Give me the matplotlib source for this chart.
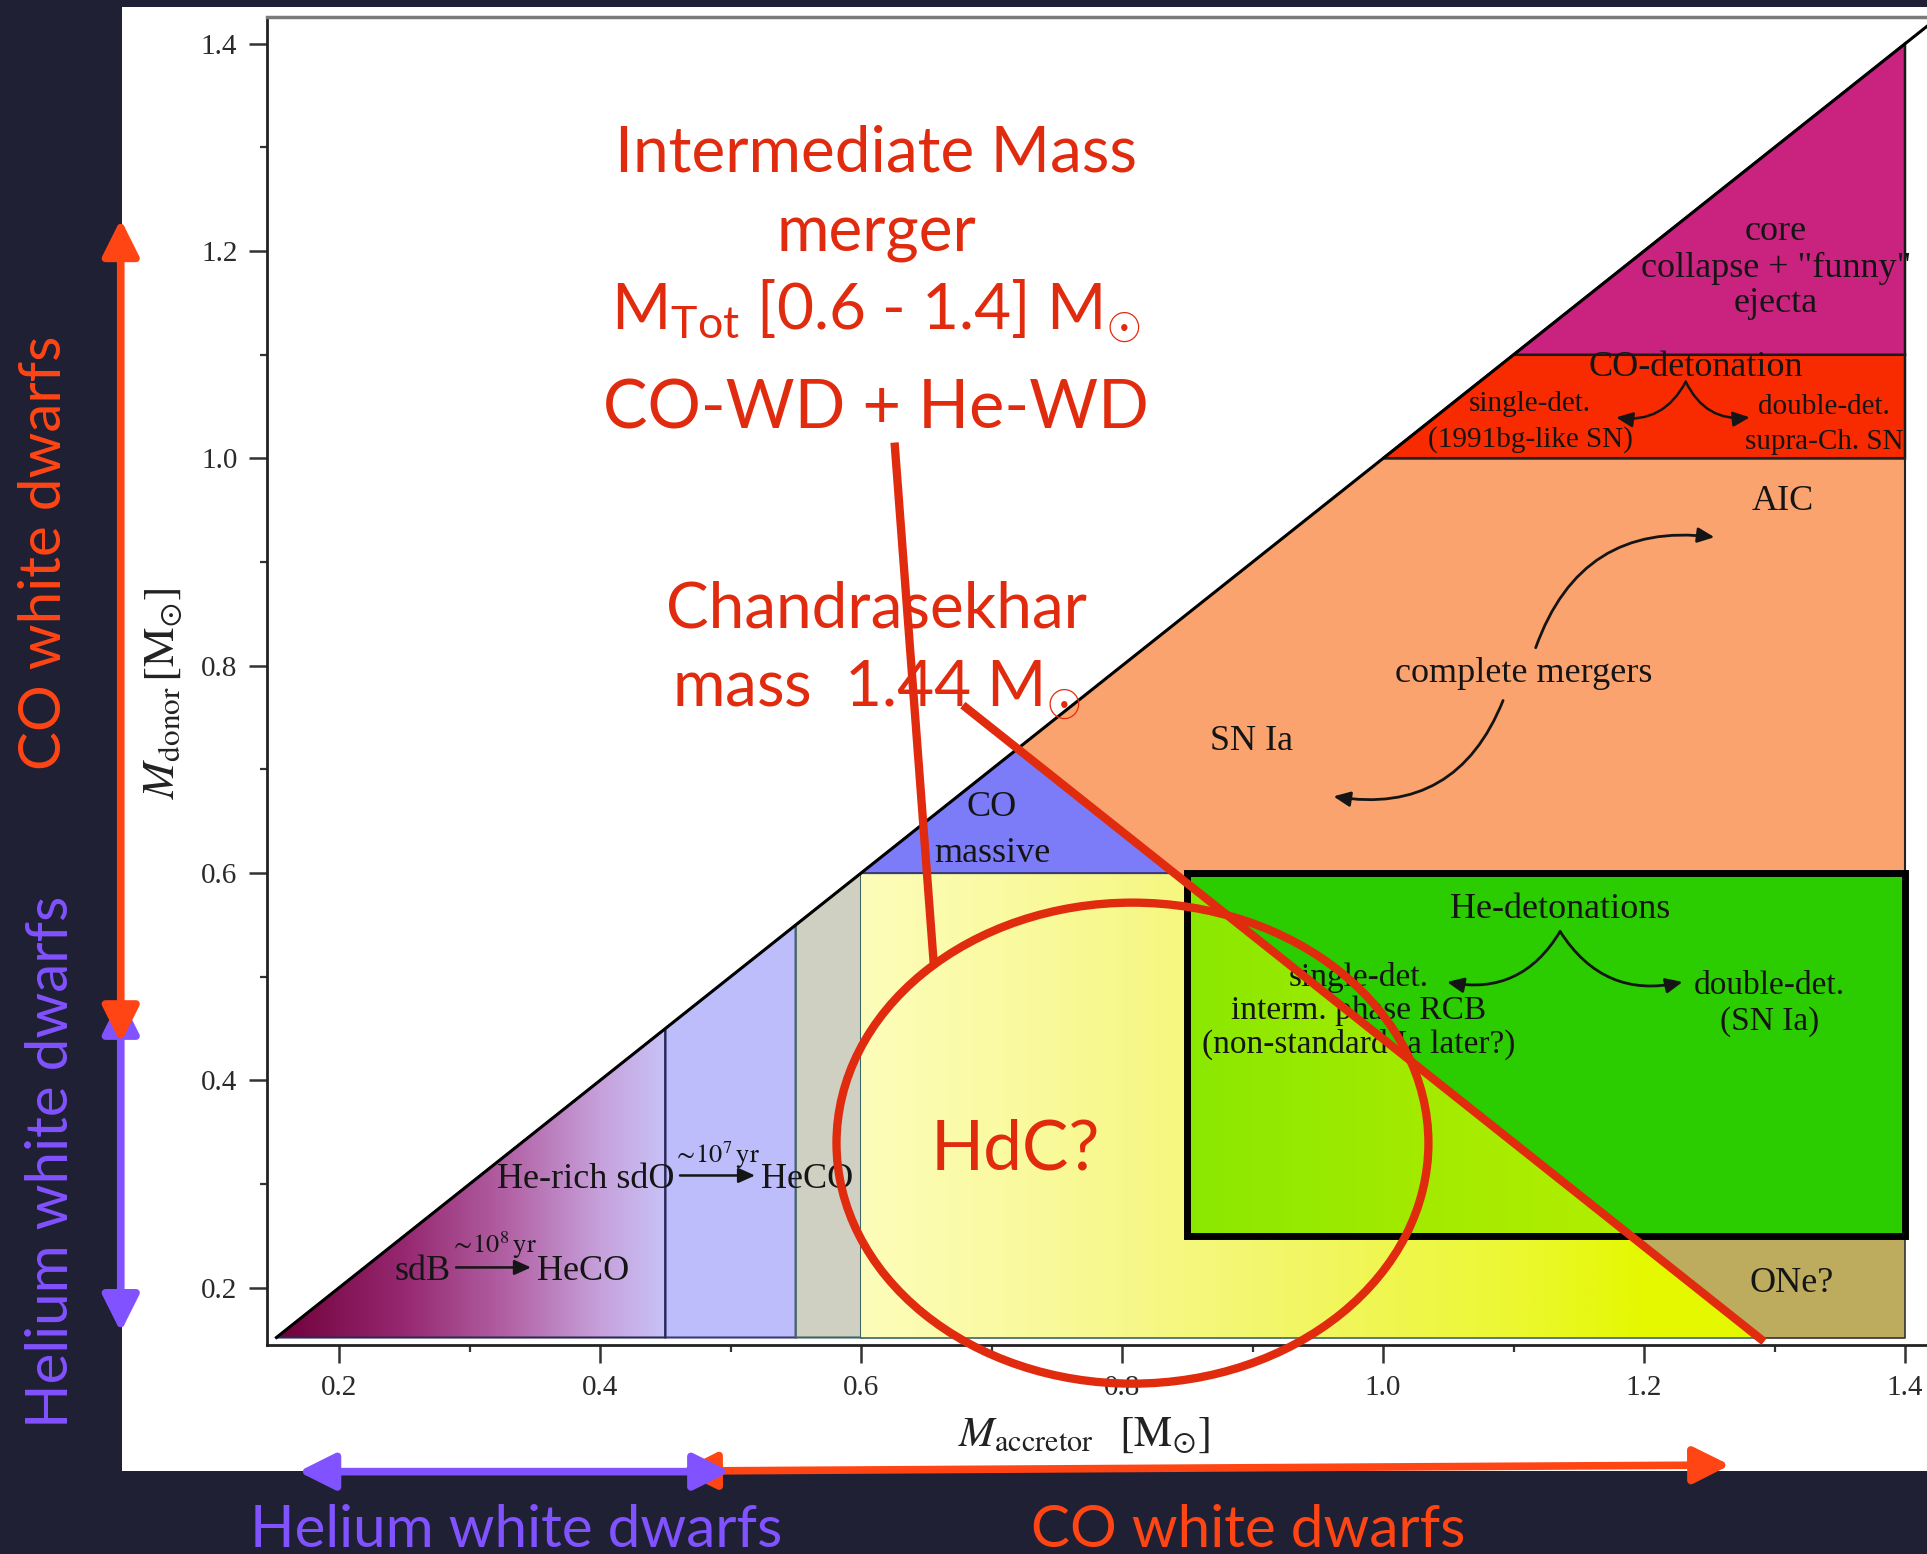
import numpy as np
import matplotlib
matplotlib.use("Agg")
import matplotlib.pyplot as plt
from matplotlib.patches import Polygon, Rectangle, Ellipse, FancyArrowPatch
from matplotlib.ticker import MultipleLocator, FormatStrFormatter

plt.rcParams['mathtext.rm'] = 'Lato'
plt.rcParams['mathtext.it'] = 'Lato:italic'
plt.rcParams['mathtext.bf'] = 'Lato:bold'

# ---------------- masses (solar units) ----------------
m_floor = 0.152                          # lower donor-mass edge of the shaded map
m_max = 1.40                             # upper accretor / donor mass of the map
he_bands = [0.152, 0.45, 0.55, 0.60]     # accretor edges: sdB, He-rich sdO, hybrid strip
donor_levels = [0.60, 1.00, 1.10]        # complete mergers / CO detonation / core collapse
he_det_acc = [0.85, 1.40]                # He-detonation box, accretor range
he_det_don = [0.25, 0.60]                # He-detonation box, donor range
one_don = [0.152, 0.25]                  # ONe box, donor range

m_chandra = 1.44                         # Chandrasekhar mass: total-mass boundary
chandra_acc = [0.678, 1.292]             # accretor span of the M_acc + M_don = M_Ch guide

hdc_center = [0.808, 0.3395]             # HdC candidate zone (accretor, donor)
hdc_size = [0.4536, 0.464]

he_wd_acc = [0.1688, 0.4996]             # He WD accretor range (bottom bracket)
co_wd_acc = [0.4613, 1.2659]             # CO WD accretor range
he_wd_don = [0.1574, 0.4805]             # He WD donor range (left bracket)
co_wd_don = [0.436, 1.2307]              # CO WD donor range

x_ticks = [0.2, 0.4, 0.6, 0.8, 1.0, 1.2, 1.4]
y_ticks = [0.2, 0.4, 0.6, 0.8, 1.0, 1.2, 1.4]

# ---------------- colours ----------------
BG = '#1f2033'
RED = '#e12b0e'
CO_COL = '#ff4514'
HE_COL = '#8152ff'
INK = '#151515'
SERIF = 'Liberation Serif'
SANS = ['Lato', 'DejaVu Sans']

fig = plt.figure(figsize=(19.27, 15.54), dpi=100, facecolor=BG)
fig.patches.append(Rectangle((0.0633, 0.0531), 0.95, 0.9424, transform=fig.transFigure,
                             facecolor='white', edgecolor='none', zorder=-5))
ax = fig.add_axes([0.13830, 0.13424, 0.87737, 0.85514])
ax.set_zorder(1)
ax.set_facecolor('white')


def tot_line_acc(m_don, total=m_chandra):
    """Accretor mass on the line M_acc + M_don = total."""
    return total - m_don


def shade(verts, stops, z):
    poly = Polygon(verts, closed=True, facecolor='none', edgecolor='none', zorder=z)
    ax.add_patch(poly)
    xs = np.array([v[0] for v in verts])
    ys = np.array([v[1] for v in verts])
    xg = np.linspace(xs.min(), xs.max(), 600)
    pos = [s[0] for s in stops]
    cols = np.array([s[1] for s in stops], dtype=float) / 255.0
    rgb = np.stack([np.interp(xg, pos, cols[:, k]) for k in range(3)], axis=-1)
    img = np.repeat(rgb[None, :, :], 2, axis=0)
    im = ax.imshow(img, extent=[xs.min(), xs.max(), ys.min(), ys.max()], aspect='auto',
                   interpolation='bilinear', origin='lower', zorder=z)
    im.set_clip_path(poly)


def flat(verts, color, z, ec='none', lw=0.0):
    ax.add_patch(Polygon(verts, closed=True, facecolor=color, edgecolor=ec, lw=lw, zorder=z))


def outline(verts, ec, lw, z):
    ax.add_patch(Polygon(verts, closed=True, facecolor='none', edgecolor=ec, lw=lw, zorder=z))


b0, b1, b2, b3 = he_bands
d_cm, d_co, d_cc = donor_levels
apex = m_chandra / 2.0                   # where the total-mass line meets the diagonal

# He WD + He WD: sdB band (gradient triangle)
tri = [(b0, b0), (b1, b1), (b1, m_floor)]
shade(tri, [(b0, (112, 0, 58)), (0.25, (150, 40, 112)), (0.33, (178, 98, 165)),
            (0.40, (198, 160, 218)), (b1, (200, 194, 247))], 1)
outline(tri, '#2a2a55', 1.5, 1.6)
# He-rich sdO band
band = [(b1, m_floor), (b1, b1), (b2, b2), (b2, m_floor)]
flat(band, '#bdbdfb', 1, '#3a3a78', 1.5)
# hybrid strip
strip = [(b2, m_floor), (b2, b2), (b3, b3), (b3, m_floor)]
flat(strip, '#cfd0c2', 1, '#3f6464', 1.5)

# yellow CO + He region below the total-mass boundary
e_top = tot_line_acc(d_cm)
e_bot = tot_line_acc(m_floor)
yel = [(b3, m_floor), (b3, d_cm), (e_top, d_cm), (e_bot, m_floor)]
shade(yel, [(0.60, (253, 253, 187)), (0.80, (247, 248, 140)), (0.95, (241, 246, 96)),
            (1.10, (236, 248, 50)), (1.20, (228, 248, 0)), (e_bot, (228, 248, 0))], 1)

# complete mergers (orange)
ora = [(apex, apex), (d_co, d_co), (m_max, d_co), (m_max, m_floor), (e_bot, m_floor)]
flat(ora, '#fba36e', 1)
ax.plot([d_co, m_max, m_max], [d_co, d_co, d_cm], color='#222222', lw=1.5, zorder=1.6)
# CO detonation
cod = [(d_co, d_co), (d_cc, d_cc), (m_max, d_cc), (m_max, d_co)]
flat(cod, '#f72a00', 1.2, '#1a1a1a', 1.8)
# core collapse
ccx = [(d_cc, d_cc), (m_max, m_max), (m_max, d_cc)]
flat(ccx, '#c9227f', 1.2, '#1a1a1a', 1.8)
# massive CO triangle
com = [(b3, d_cm), (apex, apex), (e_top, d_cm)]
flat(com, '#7c7cf8', 1.3, '#3a3a78', 1.5)

# He-detonation box: split by the total-mass boundary
ax0, ax1 = he_det_acc
dy0, dy1 = he_det_don
flat([(ax0, dy0), (ax0, dy1), (ax1, dy1), (ax1, dy0)], '#2bcc00', 1.4)
lower = [(ax0, dy0), (ax0, tot_line_acc(ax0)), (tot_line_acc(dy0), dy0)]
shade(lower, [(ax0, (138, 232, 0)), (1.0, (160, 234, 0)), (tot_line_acc(dy0), (178, 238, 0))], 1.5)
ax.add_patch(Rectangle((ax0, dy0), ax1 - ax0, dy1 - dy0, facecolor='none', edgecolor='black',
                       lw=5, zorder=3))

# ONe box
one = [(tot_line_acc(one_don[1]), one_don[1]), (m_max, one_don[1]), (m_max, one_don[0]),
       (tot_line_acc(one_don[0]), one_don[0])]
flat(one, '#bdab5e', 1.4)
ax.plot([tot_line_acc(one_don[1]), m_max, m_max, tot_line_acc(one_don[0])],
        [one_don[1], one_don[1], one_don[0], one_don[0]], color='#333333', lw=1.2, zorder=1.6)
ax.plot([b3, e_bot], [m_floor, m_floor], color='#3f6464', lw=1.2, zorder=1.6)

# equal-mass diagonal
ax.plot([m_floor, 1.45], [m_floor, 1.45], color='black', lw=2.2, zorder=3)

# ---------------- axes styling ----------------
ax.set_xlim(0.1444, 1.44)
ax.set_ylim(0.1444, 1.4263)
ax.set_xticks(x_ticks)
ax.set_yticks(y_ticks)
ax.xaxis.set_minor_locator(MultipleLocator(0.1))
ax.yaxis.set_minor_locator(MultipleLocator(0.1))
ax.xaxis.set_major_formatter(FormatStrFormatter('%.1f'))
ax.yaxis.set_major_formatter(FormatStrFormatter('%.1f'))
ax.tick_params(which='major', direction='out', length=13, width=1.8, color='#333333',
               labelsize=21, labelcolor='#2a2a2a', pad=8)
ax.tick_params(which='minor', direction='out', length=5, width=1.6, color='#333333')
for lab in ax.get_xticklabels() + ax.get_yticklabels():
    lab.set_family(SERIF)
for side in ('left', 'bottom'):
    ax.spines[side].set_color('#222222')
    ax.spines[side].set_linewidth(2)
ax.spines['top'].set_color('#7a7a7a')
ax.spines['top'].set_linewidth(2.5)
ax.spines['right'].set_visible(False)

ax.set_xlabel(r'$M_{\mathrm{accretor}}\;\;\;\left[\mathrm{M}_{\odot}\right]$', fontsize=31,
              color='#222222', math_fontfamily='stix')
ax.xaxis.set_label_coords(0.4835, -0.0674)
ax.xaxis.label.set_va('center')
ax.set_ylabel(r'$M_{\mathrm{donor}}\,\left[\mathrm{M}_{\odot}\right]$', fontsize=32,
              color='#222222', math_fontfamily='stix')
ax.yaxis.set_label_coords(-0.0615, 0.4907)
ax.yaxis.label.set_va('center')


# ---------------- region labels ----------------
def label(x, y, s, size=26, ha='center', va='center', **kw):
    ax.text(x, y, s, fontsize=size, ha=ha, va=va, family=SERIF, color=INK, zorder=6,
            math_fontfamily='stix', **kw)


def arrow(p0, p1, rad=0.0, lw=2.0):
    ax.add_patch(FancyArrowPatch(p0, p1, connectionstyle=f'arc3,rad={rad}',
                                 arrowstyle='-|>,head_length=10,head_width=4.5',
                                 color=INK, lw=lw, shrinkA=0, shrinkB=0, zorder=6))


label(0.2642, 0.2075, 'sdB', va='baseline')
arrow((0.2897, 0.2196), (0.3471, 0.2196), lw=1.8)
label(0.318, 0.2413, r'$\sim\!10^{8}\,\mathrm{yr}$', size=19)
label(0.3517, 0.2075, 'HeCO', ha='left', va='baseline')
label(0.3208, 0.2967, 'He-rich sdO', ha='left', va='baseline')
arrow((0.4613, 0.3083), (0.5188, 0.3083), lw=1.8)
label(0.489, 0.328, r'$\sim\!10^{7}\,\mathrm{yr}$', size=19)
label(0.5231, 0.2967, 'HeCO', ha='left', va='baseline')

label(0.7004, 0.6633, 'CO')
label(0.7004, 0.619, 'massive')
label(0.899, 0.7273, 'SN Ia')
label(1.108, 0.7926, 'complete mergers')
label(1.306, 0.9585, 'AIC')
arrow((1.117, 0.8174), (1.254, 0.924), rad=-0.4)
arrow((1.092, 0.7665), (0.962, 0.674), rad=-0.4)

label(1.301, 1.219, 'core')
label(1.301, 1.1835, 'collapse + "funny"')
label(1.301, 1.1494, 'ejecta')
label(1.240, 1.088, 'CO-detonation')
label(1.1126, 1.0522, 'single-det.', size=21)
label(1.1126, 1.018, '(1991bg-like SN)', size=21)
label(1.338, 1.0497, 'double-det.', size=21)
label(1.338, 1.0157, 'supra-Ch. SN', size=21)
arrow((1.232, 1.074), (1.1786, 1.0396), rad=-0.35, lw=1.8)
arrow((1.232, 1.074), (1.281, 1.0396), rad=0.35, lw=1.8)

label(1.1357, 0.5647, 'He-detonations')
label(0.981, 0.499, 'single-det.', size=24)
label(0.981, 0.4675, 'interm. phase RCB', size=24)
label(0.981, 0.435, '(non-standard Ia later?)', size=24)
label(1.2963, 0.491, 'double-det.', size=24)
label(1.2963, 0.457, '(SN Ia)', size=24)
arrow((1.1357, 0.5437), (1.049, 0.495), rad=-0.35)
arrow((1.1357, 0.5437), (1.2296, 0.495), rad=0.35)
label(1.3134, 0.2037, 'ONe?')


# ---------------- highlighted annotations ----------------
def red_text(x, y, s, size=46, **kw):
    ax.text(x, y, s, fontsize=size, ha='center', va='baseline', family=SANS, color=RED,
            math_fontfamily='custom', zorder=21, clip_on=False, **kw)


red_text(0.6115, 1.277, 'Intermediate Mass')
red_text(0.6115, 1.1999, 'merger')
red_text(0.6115, 1.1238, r'M$_{\mathrm{Tot}}$ [0.6 - 1.4] M$_{\odot}$')
red_text(0.6115, 1.0291, 'CO-WD + He-WD', size=48)
red_text(0.6115, 0.8367, 'Chandrasekhar')
red_text(0.6115, 0.760, r'mass  1.44 M$_{\odot}$')
red_text(0.718, 0.3136, 'HdC?', size=50)

ax.plot([0.6257, 0.6559], [1.0153, 0.5094], color=RED, lw=6, solid_capstyle='butt',
        zorder=20, clip_on=False)
ch_x = np.array(chandra_acc)
ax.plot(ch_x, m_chandra - ch_x, color=RED, lw=6, solid_capstyle='butt', zorder=20,
        clip_on=False)
ax.add_patch(Ellipse(hdc_center, hdc_size[0], hdc_size[1], facecolor='none', edgecolor=RED,
                     lw=6, zorder=20, clip_on=False))


# ---------------- white-dwarf type brackets ----------------
def bracket(p0, p1, color, z):
    ax.add_patch(FancyArrowPatch(p0, p1, arrowstyle='<|-|>,head_length=22,head_width=11',
                                 color=color, lw=5.5, shrinkA=0, shrinkB=0, zorder=z,
                                 clip_on=False))


bracket((0.0327, he_wd_don[1]), (0.0327, he_wd_don[0]), HE_COL, 22)
bracket((0.0327, co_wd_don[0]), (0.0327, co_wd_don[1]), CO_COL, 23)
bracket((co_wd_acc[0], 0.0232), (co_wd_acc[1], 0.0290), CO_COL, 22)
bracket((he_wd_acc[0], 0.0226), (he_wd_acc[1], 0.0226), HE_COL, 23)

ax.text(-0.0255, 0.9088, 'CO white dwarfs', rotation=90, fontsize=42, family=SANS,
        color=CO_COL, ha='center', va='center', clip_on=False, zorder=22)
ax.text(-0.0205, 0.3219, 'Helium white dwarfs', rotation=90, fontsize=42, family=SANS,
        color=HE_COL, ha='center', va='center', clip_on=False, zorder=22)
ax.text(0.3356, -0.0498, 'Helium white dwarfs', fontsize=42, family=SANS, color=HE_COL,
        ha='center', va='baseline', clip_on=False, zorder=22)
ax.text(0.897, -0.0498, 'CO white dwarfs', fontsize=42, family=SANS, color=CO_COL,
        ha='center', va='baseline', clip_on=False, zorder=22)

fig.savefig('out.png', dpi=100, facecolor=BG)
